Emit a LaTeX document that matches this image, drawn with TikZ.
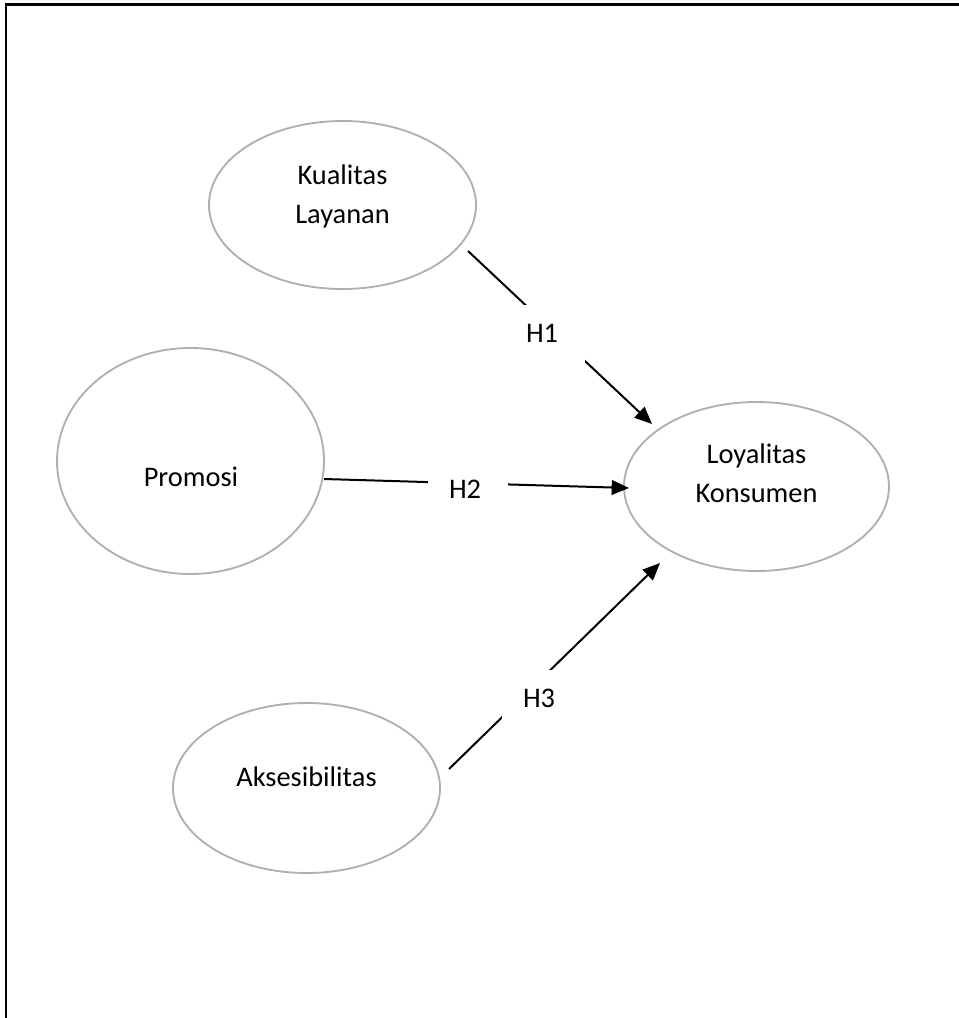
\documentclass[tikz,border=0pt]{standalone}
\usepackage{fontspec}
\setmainfont{Carlito}
\usetikzlibrary{shapes.geometric,arrows.meta}
\begin{document}
\begin{tikzpicture}[x=0.75pt,y=-0.75pt,
  var/.style={ellipse,draw=gray!62,line width=1.4pt,inner sep=0pt},
  vtext/.style={align=center,inner sep=0pt,font=\fontsize{21.3}{29}\selectfont},
  hyp/.style={fill=white,inner xsep=15.75pt,inner ysep=0pt,text width=28.5pt,align=left,minimum height=42.75pt,font=\fontsize{21.3}{29}\selectfont},
  link/.style={line width=1.5pt,-{Triangle[length=13pt,width=11pt]}},
  frame/.style={line width=1.9pt,line join=miter}
]
\useasboundingbox (0,0) rectangle (959,1018);
\coordinate (fb) at (5.8,1030);
\coordinate (fc) at (5.8,4.7);
\coordinate (fr) at (975,4.7);
\draw[frame] (fb) -- (fc) -- (fr);

% variables
\node[var,minimum width=200.25pt,minimum height=126pt] (kual) at (342.5,205) {};
\node[vtext] (kualT) at (342.5,196.4) {Kualitas\\Layanan};

\node[var,minimum width=200.25pt,minimum height=169.5pt] (prom) at (190.5,461) {};
\node[vtext,anchor=base] (promT) at (191,486.7) {Promosi};

\node[var,minimum width=198.75pt,minimum height=126.75pt] (loy) at (756.5,486.5) {};
\node[vtext] (loyT) at (756.5,473.4) {Loyalitas\\Konsumen};

\node[var,minimum width=200.25pt,minimum height=127.5pt] (aks) at (306.5,788) {};
\node[vtext,anchor=base] (aksT) at (306.5,786) {Aksesibilitas};

% connector end points
\coordinate (h1s) at (468,251);
\coordinate (h1e) at (652,424);
\coordinate (h2s) at (324,479);
\coordinate (h2e) at (629,488);
\coordinate (h3s) at (449,769);
\coordinate (h3e) at (660,563);

\draw[link] (h1s) -- (h1e);
\draw[link] (h2s) -- (h2e);
\draw[link] (h3s) -- (h3e);

% hypothesis labels
\node[hyp] (h1) at (545,333.7) {H1};
\node[hyp] (h2) at (468,489) {H2};
\node[hyp] (h3) at (542,698.3) {H3};
\end{tikzpicture}
\end{document}
